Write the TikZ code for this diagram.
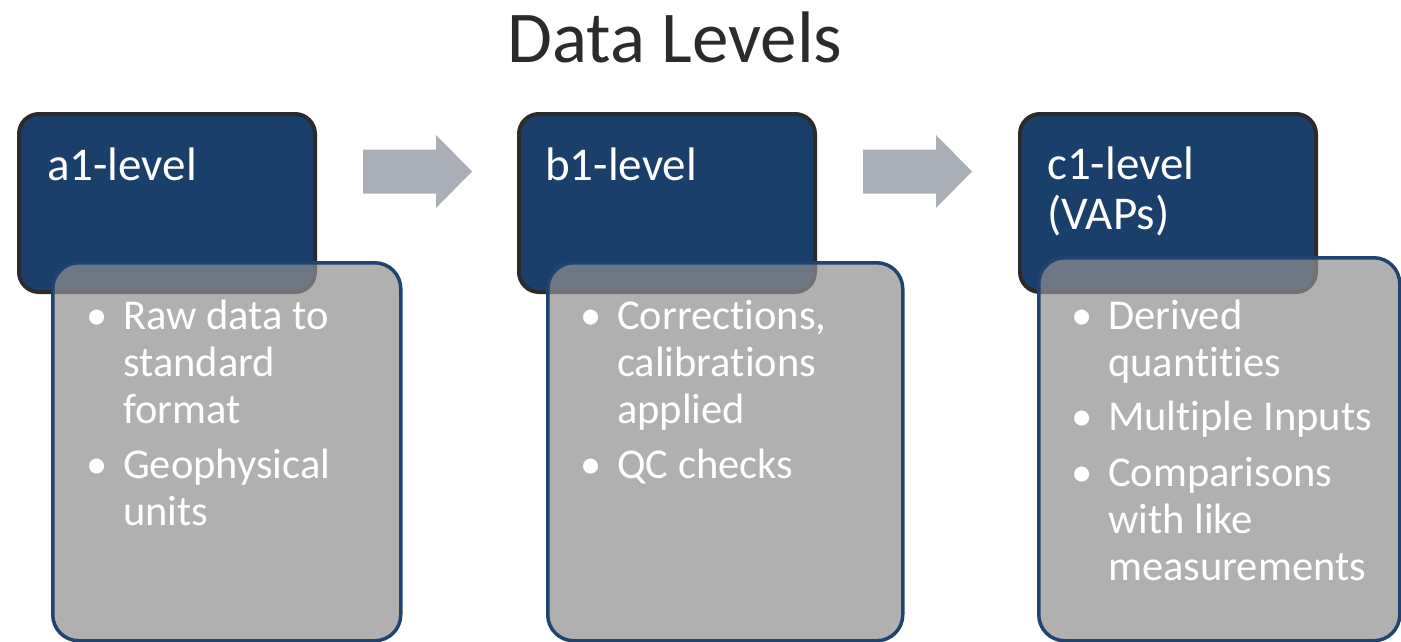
\documentclass[tikz,border=0pt]{standalone}
\usepackage{fontspec}
\setmainfont{Carlito}[Ligatures=NoCommon]
\usetikzlibrary{positioning}

\definecolor{levelblue}{HTML}{1B3F6B}
\definecolor{levelrim}{HTML}{2B2B2B}
\definecolor{notegray}{HTML}{909090}
\definecolor{noterim}{HTML}{1F4470}
\definecolor{arrowgray}{HTML}{AAAEB7}
\definecolor{titlegray}{HTML}{2B2B2B}

\tikzset{
    levelbox/.style={draw=levelrim, line width=4pt, fill=levelblue, rounded corners=20pt,
        minimum width=296pt, minimum height=178pt, anchor=north west, inner sep=0pt},
    notebox/.style={draw=noterim, line width=3.5pt, fill=notegray, fill opacity=0.71,
        rounded corners=26pt, anchor=north west, inner sep=0pt},
    leveltext/.style={text=white, font=\fontsize{47}{50}\selectfont, text width=260pt,
        align=flush left, inner sep=0pt, anchor=base west},
    notetext/.style={text=white, font=\fontsize{42.5}{47}\selectfont, text width=300pt,
        align=flush left, inner sep=0pt, anchor=base west},
    flowarrow/.style={fill=arrowgray},
}
\newcommand{\notebullet}{\leavevmode\llap{\textbullet\hspace{16pt}}}

\begin{document}
\begin{tikzpicture}[x=1pt, y=-1pt]
    \useasboundingbox (0,0) rectangle (1401,642);

    % Title
    \node[text=titlegray, font=\fontsize{73}{88}\selectfont, anchor=base, inner sep=0pt]
        (title) at (675,63) {Data Levels};

    % Level boxes
    \node[levelbox] (a1box) at (17,112) {};
    \node[levelbox] (b1box) at (517,112) {};
    \node[levelbox] (c1box) at (1018,112) {};

    % Arrows between levels
    \coordinate (arrab) at (363,171.5);
    \coordinate (arrbc) at (863,171.5);
    \foreach \a in {arrab, arrbc}
        \fill[flowarrow] (\a) ++(0,-22) -- ++(73,0) -- ++(0,-14.5) -- ++(36,36.5)
            -- ++(-36,36.5) -- ++(0,-14.5) -- ++(-73,0) -- cycle;

    % Description boxes
    \node[notebox, minimum width=348pt, minimum height=378pt] (a1note) at (51,261) {};
    \node[notebox, minimum width=355pt, minimum height=378pt] (b1note) at (546,261) {};
    \node[notebox, minimum width=361pt, minimum height=383pt] (c1note) at (1037,256) {};

    % Level names
    \node[leveltext] (a1head) at (47,180) {a1-level};
    \node[leveltext] (b1head) at (545,180) {b1-level};
    \node[leveltext] (c1head) at (1047,179) {c1-level\\(VAPs)};

    % Descriptions
    \node[notetext] (a1text) at (123,329) {\notebullet Raw data to\\ standard\\ format\\[8pt]
        \notebullet Geophysical\\ units};
    \node[notetext] (b1text) at (617,329) {\notebullet Corrections,\\ calibrations\\ applied\\[8pt]
        \notebullet QC checks};
    \node[notetext] (c1text) at (1108,329) {\notebullet Derived\\ quantities\\[7pt]
        \notebullet Multiple Inputs\\[9pt]
        \notebullet Comparisons\\ with like\\ measurements};
\end{tikzpicture}
\end{document}
